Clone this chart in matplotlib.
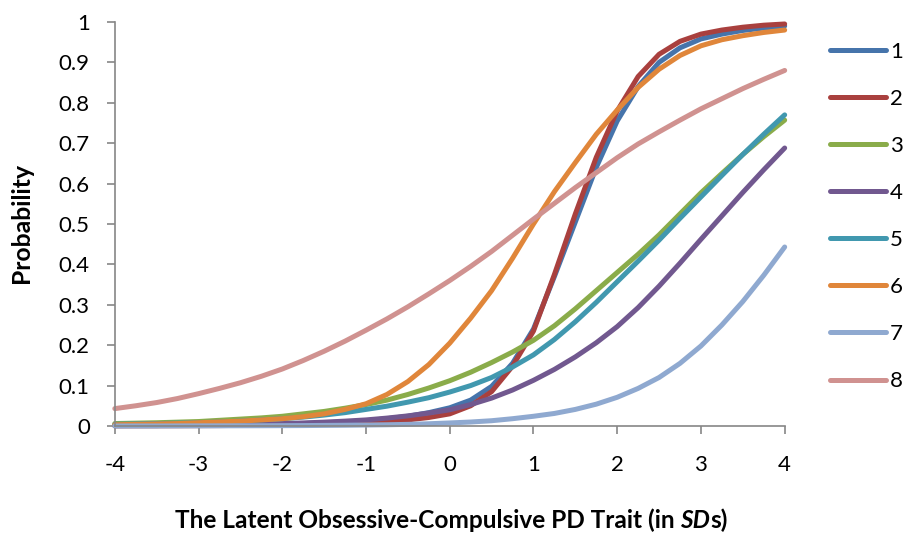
import matplotlib
matplotlib.use('Agg')
import matplotlib.pyplot as plt

plt.rcParams['font.family'] = ['Lato', 'DejaVu Sans']
plt.rcParams['axes.unicode_minus'] = False

# trait level (SD units) and the probability
x_sd = [-4, -3.75, -3.5, -3.25, -3, -2.75, -2.5, -2.25, -2, -1.75, -1.5, -1.25, -1,
        -0.75, -0.5, -0.25, 0, 0.25, 0.5, 0.75, 1, 1.25, 1.5, 1.75, 2, 2.25, 2.5,
        2.75, 3, 3.25, 3.5, 3.75, 4]

p1 = [0.001, 0.001, 0.001, 0.002, 0.002, 0.003, 0.003, 0.004, 0.005, 0.006, 0.008,
      0.01, 0.013, 0.018, 0.024, 0.033, 0.045, 0.064, 0.098, 0.155, 0.24, 0.37, 0.505,
      0.64, 0.755, 0.84, 0.9, 0.936, 0.958, 0.97, 0.979, 0.985, 0.99]
p2 = [0.0003, 0.0004, 0.0005, 0.0006, 0.0008, 0.001, 0.0014, 0.0019, 0.0025, 0.0034,
      0.0045, 0.006, 0.008, 0.011, 0.015, 0.021, 0.03, 0.05, 0.085, 0.148, 0.235, 0.375,
      0.525, 0.665, 0.78, 0.865, 0.92, 0.952, 0.97, 0.98, 0.987, 0.992, 0.995]
p3 = [0.006, 0.007, 0.008, 0.0095, 0.011, 0.014, 0.017, 0.02, 0.024, 0.03, 0.036, 0.044,
      0.053, 0.064, 0.078, 0.094, 0.112, 0.133, 0.157, 0.183, 0.212, 0.248, 0.29, 0.335,
      0.38, 0.425, 0.473, 0.525, 0.577, 0.625, 0.672, 0.716, 0.757]
p4 = [0.001, 0.0013, 0.0016, 0.002, 0.0025, 0.003, 0.0038, 0.0048, 0.006, 0.0075, 0.0095,
      0.012, 0.015, 0.0195, 0.025, 0.032, 0.04, 0.053, 0.069, 0.089, 0.113, 0.14, 0.171,
      0.206, 0.246, 0.293, 0.346, 0.403, 0.462, 0.52, 0.578, 0.634, 0.688]
p5 = [0.004, 0.005, 0.006, 0.007, 0.008, 0.01, 0.012, 0.015, 0.018, 0.022, 0.027, 0.033,
      0.041, 0.049, 0.059, 0.07, 0.084, 0.1, 0.12, 0.146, 0.176, 0.214, 0.258, 0.306,
      0.357, 0.408, 0.46, 0.514, 0.567, 0.62, 0.672, 0.722, 0.77]
p6 = [0.003, 0.004, 0.005, 0.006, 0.008, 0.01, 0.012, 0.015, 0.018, 0.023, 0.03, 0.041,
      0.055, 0.078, 0.11, 0.152, 0.205, 0.267, 0.335, 0.415, 0.5, 0.58, 0.652, 0.722,
      0.782, 0.838, 0.883, 0.917, 0.941, 0.956, 0.966, 0.974, 0.98]
p7 = [0.0, 0.0001, 0.0001, 0.0002, 0.0003, 0.0004, 0.0005, 0.0006, 0.0008, 0.001, 0.0014,
      0.0018, 0.0024, 0.003, 0.004, 0.0055, 0.0075, 0.0098, 0.013, 0.018, 0.024, 0.031,
      0.041, 0.054, 0.071, 0.093, 0.12, 0.155, 0.198, 0.25, 0.308, 0.373, 0.443]
p8 = [0.043, 0.05, 0.058, 0.068, 0.08, 0.093, 0.107, 0.123, 0.141, 0.162, 0.185, 0.21,
      0.237, 0.265, 0.295, 0.327, 0.36, 0.395, 0.432, 0.472, 0.512, 0.551, 0.59, 0.627,
      0.664, 0.698, 0.728, 0.757, 0.785, 0.81, 0.835, 0.858, 0.88]

series = [p1, p2, p3, p4, p5, p6, p7, p8]
labels = ['1', '2', '3', '4', '5', '6', '7', '8']
colors = ['#4674ab', '#a9403e', '#8aac4a', '#71588f', '#4198af',
          '#e0863a', '#8fa9d0', '#d09290']

yticks = [i / 10 for i in range(11)]
ytick_labels = ['0', '0.1', '0.2', '0.3', '0.4', '0.5', '0.6', '0.7', '0.8', '0.9', '1']

fig = plt.figure(figsize=(9.04, 5.33), dpi=100)
ax = fig.add_axes([0.127, 0.2008, 0.741, 0.758])

for y, c, lab in zip(series, colors, labels):
    ax.plot(x_sd, y, color=c, lw=3.6, label=lab, solid_capstyle='round',
            solid_joinstyle='round', clip_on=False)

ax.set_xlim(-4, 4)
ax.set_ylim(0, 1)
ax.set_xticks(range(-4, 5))
ax.set_yticks(yticks)
ax.set_yticklabels(ytick_labels)

for s in ['top', 'right']:
    ax.spines[s].set_visible(False)
for s in ['left', 'bottom']:
    ax.spines[s].set_color('#868686')
    ax.spines[s].set_linewidth(1.2)

ax.tick_params(axis='both', colors='#868686', labelcolor='black', labelsize=16,
               length=5.5, width=1.2, direction='out')
ax.tick_params(axis='x', pad=15.5)
ax.tick_params(axis='y', pad=12.5)

fig.canvas.draw()
r = fig.canvas.get_renderer()

# y axis title, scaled to the height it has in the chart
ylab = fig.text(22 / 904, 1 - 223 / 533, 'Probability', rotation=90, ha='center',
                va='center', fontsize=14, fontweight='bold')
h = ylab.get_window_extent(r).height
ylab.set_fontsize(14 * 121 / h)

# x axis title, with "SD" in italics
parts = [('The Latent Obsessive-Compulsive PD Trait (in ', 'normal'),
         ('SD', 'italic'), ('s)', 'normal')]
texts = []
for s, st in parts:
    t = fig.text(0, 1 - 520 / 533, s, fontsize=14, fontweight='bold', fontstyle=st,
                 ha='left', va='center')
    texts.append(t)
total = sum(t.get_window_extent(r).width for t in texts)
for t in texts:
    t.set_fontsize(14 * 555 / total)
widths = [t.get_window_extent(r).width for t in texts]
xpos = 451 - sum(widths) / 2
for t, w in zip(texts, widths):
    t.set_x(xpos / 904)
    xpos += w

ax.legend(loc='upper left', bbox_to_anchor=(830 / 904, 1 - 41.5 / 533),
          bbox_transform=fig.transFigure, frameon=False, fontsize=16,
          handlelength=2.5, handletextpad=0.2, labelspacing=1.22,
          borderpad=0, borderaxespad=0)

fig.savefig('out.png', dpi=100)
